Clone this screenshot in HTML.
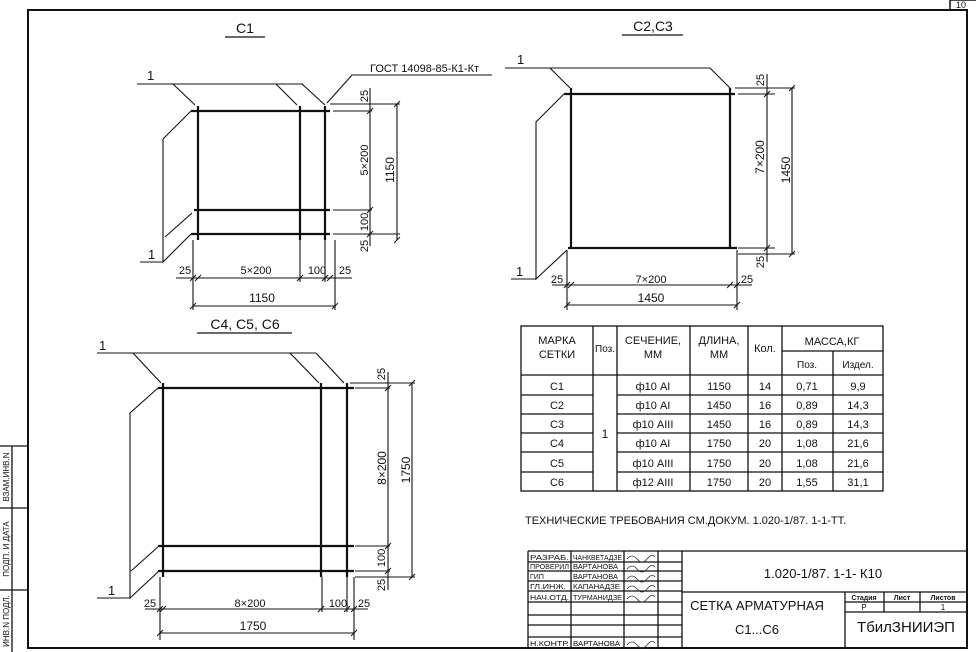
<!DOCTYPE html>
<html><head><meta charset="utf-8"><style>
html,body{margin:0;padding:0;background:#fff}
svg{display:block}
text{font-family:"Liberation Sans",sans-serif;fill:#111}
</style></head><body>
<svg width="976" height="652" viewBox="0 0 976 652" xmlns="http://www.w3.org/2000/svg">
<defs>
<g id="t"><line x1="-3" y1="3" x2="3" y2="-3" stroke="#111" stroke-width="1"/></g>
</defs>
<g stroke="#111" fill="none">
<rect x="28" y="10" width="939" height="638" stroke-width="2"/>
<path d="M950 10 V0 M950 0 H976" stroke-width="1.5"/>
<path d="M0 446 H28 M12 446 V652 M0 508 H28 M0 590 H28" stroke-width="1.3"/>
</g>
<text x="961" y="8" font-size="9" text-anchor="middle">10</text>
<g font-size="8">
<text transform="translate(9,477) rotate(-90)" text-anchor="middle">ВЗАМ.ИНВ.N</text>
<text transform="translate(9,549) rotate(-90)" text-anchor="middle">ПОДП. И ДАТА</text>
<text transform="translate(9,621) rotate(-90)" text-anchor="middle">ИНВ.N ПОДЛ.</text>
</g>

<!-- C1 -->
<g stroke="#111" fill="none" stroke-width="1.1">
<path d="M137 84 H303 M173 84 L195 105 M276 84 L297 105 M302 84 L325 105"/>
<path d="M327 103 L352 75 H492"/>
<path d="M191 111 L163 139 V262 L191 234 M192 213 L165 237 M140 262 H163"/>
<path d="M330 104 H400 M333 111 H372 M333 210 H372 M333 234 H400 M370 88 V246 M397 104 V240"/>
<path d="M193 240 V310 M335 240 V310 M300 240 V282 M325 240 V282 M176 278 H352 M193 306 H335"/>
</g>
<g stroke="#111" stroke-width="2.2">
<path d="M198 106 V240 M300 106 V240 M325 106 V240 M191 111 H330 M194 210 H330 M191 234 H330"/>
</g>
<g><use href="#t" x="370" y="111"/><use href="#t" x="370" y="210"/><use href="#t" x="370" y="234"/><use href="#t" x="397" y="104"/><use href="#t" x="397" y="240"/>
<use href="#t" x="193" y="278"/><use href="#t" x="198" y="278"/><use href="#t" x="300" y="278"/><use href="#t" x="325" y="278"/><use href="#t" x="330" y="278"/><use href="#t" x="193" y="306"/><use href="#t" x="335" y="306"/></g>
<g font-size="12">
<text x="245" y="33" text-anchor="middle" font-size="14">С1</text>
<line x1="225" y1="37" x2="265" y2="37" stroke="#111" stroke-width="1.2"/>
<text x="147" y="80" font-size="13">1</text>
<text x="148" y="259" font-size="13">1</text>
<text x="370" y="72" font-size="11">ГОСТ 14098-85-К1-Кт</text>
<text transform="translate(368,96) rotate(-90)" text-anchor="middle" font-size="11">25</text>
<text transform="translate(368,160) rotate(-90)" text-anchor="middle" font-size="11">5×200</text>
<text transform="translate(368,222) rotate(-90)" text-anchor="middle" font-size="11">100</text>
<text transform="translate(368,246) rotate(-90)" text-anchor="middle" font-size="11">25</text>
<text transform="translate(394,170) rotate(-90)" text-anchor="middle" font-size="12">1150</text>
<text x="185" y="274" text-anchor="middle" font-size="11">25</text>
<text x="256" y="274" text-anchor="middle" font-size="11">5×200</text>
<text x="317" y="274" text-anchor="middle" font-size="11">100</text>
<text x="345" y="274" text-anchor="middle" font-size="11">25</text>
<text x="262" y="302" text-anchor="middle">1150</text>
</g>

<!-- C2 -->
<g stroke="#111" fill="none" stroke-width="1.1">
<path d="M505 68 H710 M550 68 L570 88 M710 68 L730 88"/>
<path d="M564 94 L536 122 V279 L567 250 M511 279 H536"/>
<path d="M735 88 H795 M738 94 H775 M738 248 H775 M738 254 H795 M767 74 V262 M792 88 V254"/>
<path d="M567 250 V310 M737 250 V310 M552 285 H752 M567 305 H737"/>
</g>
<g stroke="#111" stroke-width="2.2"><path d="M571 88 V248 M730 88 V248 M564 94 H735 M568 248 H737"/></g>
<g><use href="#t" x="767" y="94"/><use href="#t" x="767" y="248"/><use href="#t" x="792" y="88"/><use href="#t" x="792" y="254"/>
<use href="#t" x="567" y="285"/><use href="#t" x="571" y="285"/><use href="#t" x="730" y="285"/><use href="#t" x="737" y="285"/><use href="#t" x="567" y="305"/><use href="#t" x="737" y="305"/></g>
<g font-size="12">
<text x="653" y="31" text-anchor="middle" font-size="14">С2,С3</text>
<line x1="622" y1="35" x2="683" y2="35" stroke="#111" stroke-width="1.2"/>
<text x="517" y="64" font-size="13">1</text>
<text x="516" y="276" font-size="13">1</text>
<text transform="translate(764,80) rotate(-90)" text-anchor="middle" font-size="11">25</text>
<text transform="translate(764,157) rotate(-90)" text-anchor="middle" font-size="12">7×200</text>
<text transform="translate(764,262) rotate(-90)" text-anchor="middle" font-size="11">25</text>
<text transform="translate(790,170) rotate(-90)" text-anchor="middle">1450</text>
<text x="557" y="283" text-anchor="middle" font-size="11">25</text>
<text x="651" y="283" text-anchor="middle" font-size="11">7×200</text>
<text x="747" y="283" text-anchor="middle" font-size="11">25</text>
<text x="651" y="302" text-anchor="middle">1450</text>
</g>

<!-- C4 -->
<g stroke="#111" fill="none" stroke-width="1.1">
<path d="M97 353 H316 M133 353 L161 383 M290 353 L319 383 M316 353 L344 383"/>
<path d="M158 388 L130 413 V598 L159 571 M159 546 L131 571 M97 598 H131"/>
<path d="M350 383 H415 M355 388 H390 M355 546 H390 M355 571 H390 M355 577 H415 M388 372 V590 M412 383 V577"/>
<path d="M160 577 V640 M354 577 V640 M322 577 V612 M347 577 V612 M145 609 H368 M160 633 H354"/>
</g>
<g stroke="#111" stroke-width="2.2"><path d="M163 383 V577 M321 383 V577 M347 383 V577 M158 388 H354 M158 546 H354 M158 571 H354"/></g>
<g><use href="#t" x="388" y="388"/><use href="#t" x="388" y="546"/><use href="#t" x="388" y="571"/><use href="#t" x="412" y="383"/><use href="#t" x="412" y="577"/>
<use href="#t" x="160" y="609"/><use href="#t" x="163" y="609"/><use href="#t" x="321" y="609"/><use href="#t" x="347" y="609"/><use href="#t" x="354" y="609"/><use href="#t" x="160" y="633"/><use href="#t" x="354" y="633"/></g>
<g font-size="12">
<text x="245" y="329" text-anchor="middle" font-size="14">С4, С5, С6</text>
<line x1="197" y1="333" x2="292" y2="333" stroke="#111" stroke-width="1.2"/>
<text x="99" y="350" font-size="13">1</text>
<text x="108" y="595" font-size="13">1</text>
<text transform="translate(385,374) rotate(-90)" text-anchor="middle" font-size="11">25</text>
<text transform="translate(386,468) rotate(-90)" text-anchor="middle">8×200</text>
<text transform="translate(385,558) rotate(-90)" text-anchor="middle" font-size="11">100</text>
<text transform="translate(385,585) rotate(-90)" text-anchor="middle" font-size="11">25</text>
<text transform="translate(410,470) rotate(-90)" text-anchor="middle">1750</text>
<text x="150" y="607" text-anchor="middle" font-size="11">25</text>
<text x="250" y="607" text-anchor="middle" font-size="11">8×200</text>
<text x="338" y="607" text-anchor="middle" font-size="11">100</text>
<text x="364" y="607" text-anchor="middle" font-size="11">25</text>
<text x="253" y="630" text-anchor="middle">1750</text>
</g>

<!-- Table -->
<g stroke="#111" fill="none" stroke-width="1.3">
<rect x="521" y="326" width="362" height="165"/>
<path d="M593 326 V491 M617 326 V491 M690 326 V491 M748 326 V491 M782 326 V491 M833 351 V491 M782 351 H883"/>
<path d="M521 375 H883 M521 395 H593 M617 395 H883 M521 414 H593 M617 414 H883 M521 433 H593 M617 433 H883 M521 452 H593 M617 452 H883 M521 472 H593 M617 472 H883"/>
</g>
<g font-size="11" text-anchor="middle">
<text x="557" y="344">МАРКА</text><text x="557" y="358">СЕТКИ</text>
<text x="605" y="352" font-size="10">Поз.</text>
<text x="653" y="344">СЕЧЕНИЕ,</text><text x="653" y="358">ММ</text>
<text x="719" y="344">ДЛИНА,</text><text x="719" y="358">ММ</text>
<text x="765" y="352">Кол.</text>
<text x="832" y="345">МАССА,КГ</text>
<text x="807" y="368" font-size="10">Поз.</text><text x="858" y="368" font-size="10">Издел.</text>
<text x="605" y="438" font-size="12">1</text>
</g>
<g font-size="11" text-anchor="middle">
<text x="557" y="390">С1</text><text x="653" y="390">ф10 АI</text><text x="719" y="390">1150</text><text x="765" y="390">14</text><text x="807" y="390">0,71</text><text x="858" y="390">9,9</text>
<text x="557" y="409">С2</text><text x="653" y="409">ф10 АI</text><text x="719" y="409">1450</text><text x="765" y="409">16</text><text x="807" y="409">0,89</text><text x="858" y="409">14,3</text>
<text x="557" y="428">С3</text><text x="653" y="428">ф10 АIII</text><text x="719" y="428">1450</text><text x="765" y="428">16</text><text x="807" y="428">0,89</text><text x="858" y="428">14,3</text>
<text x="557" y="447">С4</text><text x="653" y="447">ф10 АI</text><text x="719" y="447">1750</text><text x="765" y="447">20</text><text x="807" y="447">1,08</text><text x="858" y="447">21,6</text>
<text x="557" y="467">С5</text><text x="653" y="467">ф10 АIII</text><text x="719" y="467">1750</text><text x="765" y="467">20</text><text x="807" y="467">1,08</text><text x="858" y="467">21,6</text>
<text x="557" y="486">С6</text><text x="653" y="486">ф12 АIII</text><text x="719" y="486">1750</text><text x="765" y="486">20</text><text x="807" y="486">1,55</text><text x="858" y="486">31,1</text>
</g>
<text x="525" y="524" font-size="11">ТЕХНИЧЕСКИЕ ТРЕБОВАНИЯ СМ.ДОКУМ. 1.020-1/87. 1-1-ТТ.</text>

<!-- Title block -->
<g stroke="#111" fill="none" stroke-width="1.3">
<path d="M528 551 H967 M528 551 V648 M571 551 V648 M624 551 V648 M658 551 V648 M682 551 V648"/>
<path d="M528 562 H682 M528 571 H682 M528 581 H682 M528 591 H682 M528 602 H682 M528 615 H682 M528 625 H682 M528 637 H682"/>
<path d="M682 592 H967 M845 592 V648 M884 592 V612 M920 592 V612 M845 602 H967 M845 612 H967"/>
</g>
<g font-size="7">
<text x="530" y="560" textLength="39" lengthAdjust="spacingAndGlyphs">РАЗРАБ.</text><text x="573" y="560" textLength="49" lengthAdjust="spacingAndGlyphs">ЧАНКВЕТАДЗЕ</text>
<text x="530" y="569" textLength="39" lengthAdjust="spacingAndGlyphs">ПРОВЕРИЛ</text><text x="573" y="569" textLength="45" lengthAdjust="spacingAndGlyphs">ВАРТАНОВА</text>
<text x="530" y="579">ГИП</text><text x="573" y="579" textLength="45" lengthAdjust="spacingAndGlyphs">ВАРТАНОВА</text>
<text x="530" y="589" textLength="36" lengthAdjust="spacingAndGlyphs">ГЛ.ИНЖ.</text><text x="573" y="589" textLength="47" lengthAdjust="spacingAndGlyphs">КАПАНАДЗЕ</text>
<text x="530" y="600" textLength="39" lengthAdjust="spacingAndGlyphs">НАЧ.ОТД.</text><text x="573" y="600" textLength="49" lengthAdjust="spacingAndGlyphs">ТУРМАНИДЗЕ</text>
<text x="530" y="646" textLength="39" lengthAdjust="spacingAndGlyphs">Н.КОНТР.</text><text x="573" y="646" textLength="47" lengthAdjust="spacingAndGlyphs">ВАРТАНОВА</text>
</g>
<g stroke="#333" fill="none" stroke-width="0.8">
<path d="M627 559 q5 -6 10 0 t10 0 t8 -2"/><path d="M627 569 q5 -6 10 0 t10 0 t8 -2"/><path d="M627 579 q5 -6 10 0 t10 0 t8 -2"/><path d="M627 589 q5 -6 10 0 t10 0 t8 -2"/><path d="M627 599 q5 -6 10 0 t10 0 t8 -2"/><path d="M627 645 q5 -6 10 0 t10 0 t8 -2"/>
</g>
<text x="823" y="578" font-size="13" text-anchor="middle">1.020-1/87. 1-1- К10</text>
<text x="757" y="610" font-size="13" text-anchor="middle">СЕТКА АРМАТУРНАЯ</text>
<text x="757" y="634" font-size="13" text-anchor="middle">С1...С6</text>
<g font-size="7" text-anchor="middle" font-weight="bold"><text x="864" y="600">Стадия</text><text x="902" y="600">Лист</text><text x="943" y="600">Листов</text></g>
<g font-size="8" text-anchor="middle"><text x="864" y="610">Р</text><text x="943" y="610">1</text></g>
<text x="906" y="632" font-size="15" text-anchor="middle">ТбилЗНИИЭП</text>
</svg>
</body></html>
